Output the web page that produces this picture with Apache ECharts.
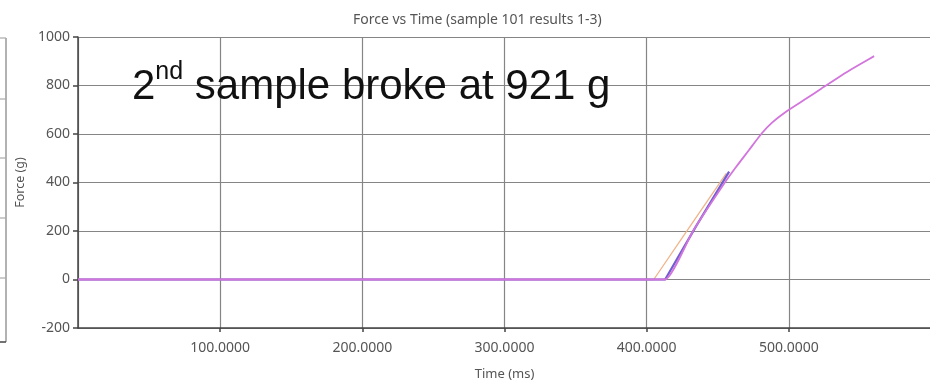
<!DOCTYPE html>
<html>
<head>
<meta charset="utf-8">
<script src="https://cdn.jsdelivr.net/npm/echarts@6/dist/echarts.min.js"></script>
<style>
  html, body { margin: 0; padding: 0; background: #fff; }
  #chart { width: 930px; height: 382px; }
</style>
</head>
<body>
<div id="chart"></div>
<script>
// Force readings (g) against time (ms) for the three runs of sample 101
const run1Time  = [0, 405, 430, 456];
const run1Force = [0, 0, 215, 438];

const run2Time  = [0, 410, 413, 433, 455, 463, 472, 481, 488, 498, 512, 523, 540, 551, 560];
const run2Force = [0, 0, 0, 204, 400, 465, 534, 603, 646, 692, 745, 788, 853, 891, 921];

const run3Time  = [0, 413, 435, 458];
const run3Force = [0, 0, 222, 445];

const yTicks = [-200, 0, 200, 400, 600, 800, 1000];
const xTicks = [0, 100, 200, 300, 400, 500, 600];

const pairs = (ts, fs) => ts.map((t, i) => [t, fs[i]]);

const chart = echarts.init(document.getElementById('chart'), null, { renderer: 'canvas' });

const axisFont = '"Noto Sans", "Open Sans", sans-serif';

// edge of the neighbouring panel on the left: its frame and gridline stubs
const edgeStubs = [38, 99, 158, 218, 278].map(y => ({
  type: 'line',
  silent: true,
  shape: { x1: 0, y1: y, x2: 6, y2: y },
  style: { stroke: '#aaa', lineWidth: 1.2 }
}));

chart.setOption({
  backgroundColor: '#ffffff',
  animation: false,
  title: {
    text: 'Force vs Time (sample 101 results 1-3)',
    left: 348,
    top: 8,
    textStyle: { fontFamily: axisFont, fontSize: 14, fontWeight: 'normal', color: '#555' }
  },
  grid: { left: 78, top: 37, width: 853, height: 291, containLabel: false, outerBoundsMode: 'none' },
  xAxis: {
    type: 'value',
    min: xTicks[0],
    max: xTicks[xTicks.length - 1],
    interval: 100,
    name: 'Time (ms)',
    nameLocation: 'middle',
    nameGap: 40,
    nameTextStyle: { fontFamily: axisFont, fontSize: 13, color: '#555' },
    axisLine: { onZero: false, lineStyle: { color: '#444', width: 1.5 } },
    axisTick: { show: true, length: 4, lineStyle: { color: '#444', width: 1.5 } },
    axisLabel: {
      showMinLabel: false,
      showMaxLabel: false,
      margin: 13,
      fontFamily: axisFont,
      fontSize: 14,
      color: '#555',
      formatter: v => v.toFixed(4)
    },
    splitLine: { show: true, lineStyle: { color: '#858585', width: 1.2 } }
  },
  yAxis: {
    type: 'value',
    min: yTicks[0],
    max: yTicks[yTicks.length - 1],
    interval: 200,
    name: 'Force (g)',
    nameLocation: 'middle',
    nameGap: 50,
    nameTextStyle: { fontFamily: axisFont, fontSize: 12.5, color: '#555' },
    axisLine: { show: true, lineStyle: { color: '#444', width: 1.5 } },
    axisTick: { show: true, length: 5, lineStyle: { color: '#444', width: 1.5 } },
    axisLabel: {
      margin: 8,
      fontFamily: axisFont,
      fontSize: 14,
      color: '#555',
      formatter: v => String(v)
    },
    splitLine: { show: true, lineStyle: { color: '#858585', width: 1.2 } }
  },
  series: [
    {
      name: 'result 1',
      type: 'line',
      data: pairs(run1Time, run1Force),
      showSymbol: false,
      lineStyle: { color: '#f0b48a', width: 1.3 },
      z: 2
    },
    {
      name: 'result 3',
      type: 'line',
      data: pairs(run3Time, run3Force),
      showSymbol: false,
      lineStyle: { color: '#6f5fd0', width: 2.2 },
      z: 3
    },
    {
      name: 'result 2',
      type: 'line',
      data: pairs(run2Time, run2Force),
      showSymbol: false,
      smooth: 0.2,
      lineStyle: { color: '#d275dc', width: 1.8 },
      z: 4
    }
  ],
  graphic: [
    {
      type: 'line',
      silent: true,
      shape: { x1: 6, y1: 38, x2: 6, y2: 342 },
      style: { stroke: '#999', lineWidth: 1.5 }
    },
    {
      type: 'line',
      silent: true,
      shape: { x1: 0, y1: 342, x2: 6, y2: 342 },
      style: { stroke: '#444', lineWidth: 1.5 }
    },
    ...edgeStubs,
    {
      type: 'text',
      left: 132,
      top: 60,
      z: 10,
      style: {
        text: '{main|2}{sup|nd}{main| sample broke at 921 g}',
        rich: {
          main: { fontFamily: '"Liberation Sans", Arial, sans-serif', fontSize: 42, lineHeight: 48, fill: '#111', verticalAlign: 'bottom' },
          sup: { fontFamily: '"Liberation Sans", Arial, sans-serif', fontSize: 25, lineHeight: 25, fill: '#111', verticalAlign: 'top' }
        }
      }
    }
  ]
});
</script>
</body>
</html>
